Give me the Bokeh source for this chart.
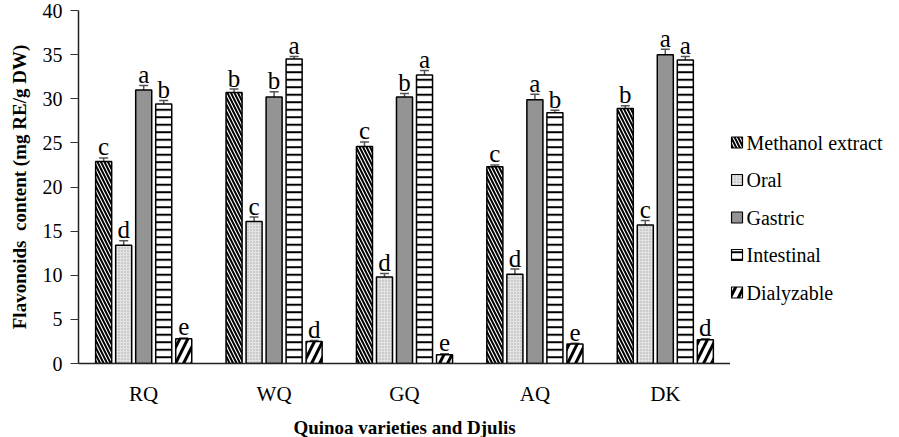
from bokeh.plotting import figure
from bokeh.layouts import row
from bokeh.models import (ColumnDataSource, FactorRange, Range1d, Whisker, TeeHead,
                          SingleIntervalTicker)
from bokeh.transform import dodge
from bokeh.core.properties import value
from bokeh.embed import file_html
from bokeh.resources import INLINE

# ---------------- data ----------------
varieties = ["RQ", "WQ", "GQ", "AQ", "DK"]
series = ["Methanol extract", "Oral", "Gastric", "Intestinal", "Dialyzable"]

methanol = [22.9, 30.7, 24.6, 22.3, 28.9]
oral = [13.4, 16.1, 9.8, 10.1, 15.7]
gastric = [31.0, 30.2, 30.2, 29.9, 35.0]
intestinal = [29.4, 34.5, 32.7, 28.4, 34.4]
dialyzable = [2.8, 2.5, 1.0, 2.2, 2.7]

methanol_err = [0.4, 0.4, 0.5, 0.2, 0.3]
oral_err = [0.5, 0.5, 0.4, 0.6, 0.5]
gastric_err = [0.5, 0.6, 0.4, 0.6, 0.6]
intestinal_err = [0.4, 0.3, 0.5, 0.3, 0.4]
dialyzable_err = [0.1, 0.1, 0.1, 0.1, 0.1]

methanol_sig = ["c", "b", "c", "c", "b"]
oral_sig = ["d", "c", "d", "d", "c"]
gastric_sig = ["a", "b", "b", "a", "a"]
intestinal_sig = ["b", "a", "a", "b", "a"]
dialyzable_sig = ["e", "d", "e", "e", "d"]

y_ticks_interval = 5

values = [methanol, oral, gastric, intestinal, dialyzable]
errors = [methanol_err, oral_err, gastric_err, intestinal_err, dialyzable_err]
letters = [methanol_sig, oral_sig, gastric_sig, intestinal_sig, dialyzable_sig]

# ---------------- styles ----------------
styles = [
    dict(fill_color="white", hatch_pattern="\\", hatch_color="black", hatch_scale=7, hatch_weight=2.0),
    dict(fill_color="#e3e3e3", hatch_pattern=".", hatch_color="#a8a8a8", hatch_scale=3, hatch_weight=1),
    dict(fill_color="#949494"),
    dict(fill_color="white", hatch_pattern="-", hatch_color="black", hatch_scale=7.5, hatch_weight=2),
    dict(fill_color="white", hatch_pattern="/", hatch_color="black", hatch_scale=16, hatch_weight=3),
]
offsets = [-0.307, -0.1535, 0.0, 0.1535, 0.307]
bar_w = 0.123
FONT = "Liberation Serif"

p = figure(x_range=FactorRange(*varieties, range_padding=0), y_range=Range1d(0, 40),
           frame_width=652, frame_height=353,
           min_border_left=78, min_border_right=0, min_border_top=10, min_border_bottom=50,
           output_backend="svg", toolbar_location=None)
p.x_range.range_padding = 0
p.outline_line_color = None
p.xgrid.visible = False
p.ygrid.visible = False
p.background_fill_color = "white"

for i, name in enumerate(series):
    src = ColumnDataSource(dict(
        x=varieties,
        top=values[i],
        upper=[v + e for v, e in zip(values[i], errors[i])],
        lower=[v - e for v, e in zip(values[i], errors[i])],
        sig=letters[i],
    ))
    p.vbar(x=dodge("x", offsets[i], range=p.x_range), top="top", width=bar_w, bottom=0,
           source=src, line_color="black", line_width=1.5, **styles[i])
    w = Whisker(base=dodge("x", offsets[i], range=p.x_range), upper="upper", lower="lower",
                source=src, line_color="#555555", line_width=1.5,
                upper_head=TeeHead(size=9, line_color="#555555", line_width=1.5),
                lower_head=TeeHead(size=9, line_color="#555555", line_width=1.5))
    p.add_layout(w)
    p.text(x=dodge("x", offsets[i], range=p.x_range), y="upper", text="sig", source=src,
           y_offset=-11, text_align="center", text_baseline="alphabetic",
           text_font=value(FONT), text_font_size="25px", text_color="black")

# axes
p.yaxis.ticker = SingleIntervalTicker(interval=y_ticks_interval)
p.yaxis.minor_tick_line_color = None
p.yaxis.major_tick_in = 0
p.yaxis.major_tick_out = 8
p.yaxis.major_tick_line_color = "#333333"
p.yaxis.axis_line_color = "#222222"
p.yaxis.axis_line_width = 1.5
p.yaxis.major_label_text_font = FONT
p.yaxis.major_label_text_font_size = "20px"
p.yaxis.major_label_text_color = "black"
p.yaxis.major_label_standoff = 8
p.yaxis.axis_label = "Flavonoids\u00a0\u00a0content (mg RE/g DW)"
p.yaxis.axis_label_text_font = FONT
p.yaxis.axis_label_text_font_style = "bold"
p.yaxis.axis_label_text_font_size = "19px"
p.yaxis.axis_label_text_color = "black"
p.yaxis.axis_label_standoff = 10

p.xaxis.major_tick_in = 0
p.xaxis.major_tick_out = 0
p.xaxis.minor_tick_line_color = None
p.xaxis.axis_line_color = "#222222"
p.xaxis.axis_line_width = 1.5
p.xaxis.major_label_text_font = FONT
p.xaxis.major_label_text_font_size = "21px"
p.xaxis.major_label_text_color = "black"
p.xaxis.major_label_standoff = 18
p.xaxis.axis_label = "Quinoa varieties and Djulis"
p.xaxis.axis_label_text_font = FONT
p.xaxis.axis_label_text_font_style = "bold"
p.xaxis.axis_label_text_font_size = "19px"
p.xaxis.axis_label_text_color = "black"
p.xaxis.axis_label_standoff = 8

# ---------------- legend panel (pixel-unit figure) ----------------
LW, LH = 153, 353
leg = figure(frame_width=LW, frame_height=LH, x_range=Range1d(0, LW), y_range=Range1d(0, LH),
             min_border_left=0, min_border_right=0, min_border_top=10, min_border_bottom=0,
             output_backend="svg", toolbar_location=None)
leg.axis.visible = False
leg.grid.visible = False
leg.outline_line_color = None
first_item_y = LH - 132
item_pitch = 37.5
for i, name in enumerate(series):
    yy = first_item_y - item_pitch * i
    leg.rect(x=[6.5], y=[yy], width=11, height=11, line_color="black", line_width=1.2,
             **styles[i])
    leg.text(x=[16], y=[yy], text=[name], text_baseline="middle", text_align="left",
             text_font=value(FONT), text_font_size="20px", text_color="black")

layout = row(p, leg)
open("out.html", "w").write(file_html(layout, INLINE))
